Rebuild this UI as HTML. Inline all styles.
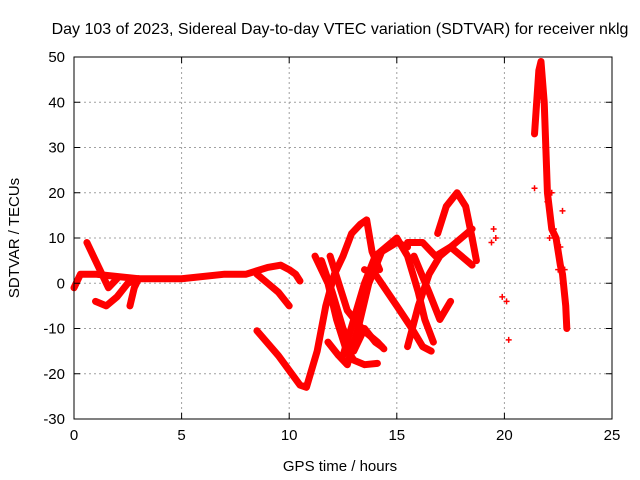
<!DOCTYPE html>
<html><head><meta charset="utf-8"><style>body{margin:0;background:#fff}svg{display:block}text{font-family:"Liberation Sans",sans-serif;font-size:15px;fill:#000}</style></head>
<body>
<svg id="chart" width="640" height="480" xmlns="http://www.w3.org/2000/svg">
<text x="340" y="34" text-anchor="middle" style="font-size:16px">Day 103 of 2023, Sidereal Day-to-day VTEC variation (SDTVAR) for receiver nklg</text>
<g id="grid"></g><g id="marks"></g><g id="axes"></g>
<text x="340" y="471" text-anchor="middle">GPS time / hours</text>
<text transform="translate(19,238) rotate(-90)" text-anchor="middle">SDTVAR / TECUs</text>
</svg>
<script>
const xTicks=[0,5,10,15,20,25];
const yTicks=[-30,-20,-10,0,10,20,30,40,50];
const tracks=[
[[0,-1],[0.3,2],[1,2],[2,1.5],[3,1],[5,1],[7,2],[8,2],[9,3.5],[9.6,4],[10,3],[10.3,2],[10.5,0.5]],
[[0.6,9],[0.9,6],[1.2,3],[1.6,-1],[2,1]],
[[1,-4],[1.5,-5],[2,-3],[2.5,0],[3,1]],
[[2.6,-5],[2.8,-1],[3,1]],
[[8.5,2],[9,0],[9.5,-2],[10,-5]],
[[8.5,-10.5],[9.5,-16],[10.5,-22.5],[10.8,-23],[11.3,-15],[11.7,-5],[12.1,2],[12.5,6],[12.9,11],[13.3,13],[13.6,14],[13.85,7],[14.2,3]],
[[11.2,6],[11.8,0],[12.2,-8],[12.6,-14],[13,-17],[13.5,-18],[14.1,-17.7]],
[[11.5,5],[12,-2],[12.5,-10],[13,-15],[13.5,-10],[14,-13],[14.3,-14]],
[[11.9,6],[12.3,0],[12.7,-6],[13.2,-9],[13.6,-11],[14.1,-13],[14.4,-14.5]],
[[11.8,-13],[12.3,-16],[12.7,-18],[13.2,-10],[13.7,0],[14.3,7],[15,9],[15.5,8]],
[[12.5,-16],[13,-8],[13.5,0],[14,6],[14.5,8],[15,10],[15.5,6],[16,-2],[16.3,-8],[16.7,-13]],
[[15.5,-14],[16,-5],[16.5,2],[17,6],[17.5,8],[18,6],[18.5,4]],
[[15.5,9],[16.2,9],[16.8,6],[17.5,8],[18,10],[18.5,12]],
[[15.8,6],[16.5,-2],[17,-8],[17.5,-4]],
[[16.9,11],[17.3,17],[17.8,20],[18.2,17],[18.5,10],[18.7,5]],
[[13.5,3],[14,2],[15,-5],[15.7,-10],[16.2,-14],[16.6,-15]],
[[21.4,33],[21.6,47],[21.7,49],[21.85,40],[22,20],[22.2,12],[22.4,10],[22.6,4],[22.7,2],[22.85,-5],[22.9,-10]]
];
const points=[[19.4,9],[19.5,12],[19.6,10],[19.9,-3],[20.1,-4],[20.2,-12.5],[21.4,21],[21.9,30],[22,18],[22.1,10],[22.2,20],[22.3,12],[22.5,3],[22.6,8],[22.7,16],[22.8,3]];
const X0=74,X1=612,Y0=419,Y1=57,XMIN=0,XMAX=25,YMIN=-30,YMAX=50;
const sx=v=>X0+(v-XMIN)/(XMAX-XMIN)*(X1-X0);
const sy=v=>Y0-(v-YMIN)/(YMAX-YMIN)*(Y0-Y1);
const NS="http://www.w3.org/2000/svg";
function mk(t,p,a){const e=document.createElementNS(NS,t);for(const k in a)e.setAttribute(k,a[k]);p.appendChild(e);return e;}
const grid=document.getElementById('grid'),axes=document.getElementById('axes'),marks=document.getElementById('marks');
xTicks.forEach(t=>{const x=sx(t);
 if(t>XMIN&&t<XMAX){const g=mk('line',grid,{x1:x,x2:x,y1:Y1,y2:Y0,stroke:'#a0a0a0','stroke-dasharray':'2,3'});}
 const tx=mk('text',axes,{x:x,y:Y0+21,'text-anchor':'middle'});tx.textContent=t;
 
 
 mk('line',axes,{x1:x,x2:x,y1:Y0,y2:Y0-6,stroke:'#000'});mk('line',axes,{x1:x,x2:x,y1:Y1,y2:Y1+6,stroke:'#000'});});
yTicks.forEach(t=>{const y=sy(t);
 if(t>YMIN&&t<YMAX){const g=mk('line',grid,{x1:X0,x2:X1,y1:y,y2:y,stroke:'#a0a0a0','stroke-dasharray':'2,3'});}
 const tx=mk('text',axes,{x:X0-9,y:y+5,'text-anchor':'end'});tx.textContent=t;
 
 
 mk('line',axes,{x1:X0,x2:X0+6,y1:y,y2:y,stroke:'#000'});mk('line',axes,{x1:X1,x2:X1-6,y1:y,y2:y,stroke:'#000'});});
const fr=mk('rect',axes,{x:X0,y:Y1,width:X1-X0,height:Y0-Y1,fill:'none',stroke:'#000'});


tracks.forEach(tr=>{const p=mk('polyline',marks,{points:tr.map(d=>sx(d[0])+','+sy(d[1])).join(' '),fill:'none',stroke:'#ff0000','stroke-width':7,'stroke-linejoin':'round','stroke-linecap':'round'});
 
 });
points.forEach(d=>{const x=sx(d[0]),y=sy(d[1]);const p=mk('path',marks,{d:`M${x-3},${y}h6M${x},${y-3}v6`,stroke:'#ff0000','stroke-width':1.5});
 
 });
</script>
</body></html>
